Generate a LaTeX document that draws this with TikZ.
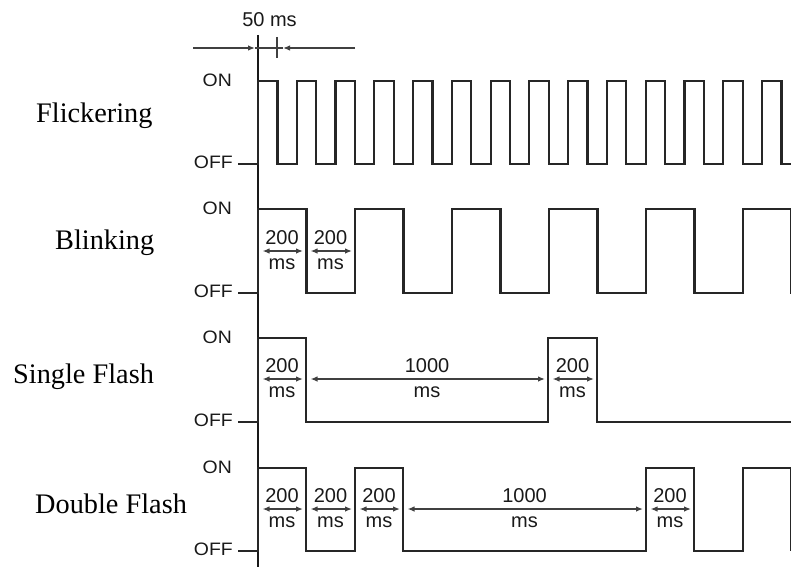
\documentclass[tikz,border=0pt]{standalone}
\usepackage{fontspec}
\setmainfont{Liberation Serif}
\newfontfamily\labfont[FakeStretch=1.08]{Liberation Sans}
\newfontfamily\numfont{Liberation Sans}
\usetikzlibrary{arrows.meta}
\begin{document}
\begin{tikzpicture}[x=1pt,y=-1pt,
  wave/.style={draw=black!85, line width=2.2pt, line join=miter},
  axisline/.style={draw=black!90, line width=2pt},
  dim/.style={draw=black!75, line width=1.3pt},
  dimarr/.style={dim, {Latex[length=7pt,width=5.5pt]}-{Latex[length=7pt,width=5.5pt]}},
  onearr/.style={dim, -{Latex[length=7pt,width=5.5pt]}},
  lvl/.style={font=\labfont\fontsize{18}{18}\selectfont, text=black!90, inner sep=0, anchor=east},
  num/.style={font=\numfont\fontsize{20}{20}\selectfont, text=black!90, inner sep=0},
  title/.style={font=\fontsize{28.3}{30}\selectfont, anchor=base west, inner sep=0}]
\useasboundingbox (0,0) rectangle (791,567);

% row titles
\node[title] (tflick) at (36,122) {Flickering};
\node[title] (tblink) at (55,249) {Blinking};
\node[title] (tsingle) at (13,383) {Single Flash};
\node[title] (tdouble) at (35,513) {Double Flash};

% ON / OFF labels
\node[lvl] (on1) at (232,80) {ON};
\node[lvl] (off1) at (233,162) {OFF};
\node[lvl] (on2) at (232,208) {ON};
\node[lvl] (off2) at (233,291) {OFF};
\node[lvl] (on3) at (232,337) {ON};
\node[lvl] (off3) at (233,420) {OFF};
\node[lvl] (on4) at (232,467) {ON};
\node[lvl] (off4) at (233,549) {OFF};

% time axis
\coordinate (axtop) at (258,35);
\coordinate (axbot) at (258,567);
\draw[axisline] (axtop) -- (axbot);

% Flickering
\draw[wave] (238,164) -- (258,164)
  foreach \k in {0,...,13} { -- ++(0,-83) -- ++(19.4,0) -- ++(0,83) -- ++(19.37,0) };

% Blinking
\draw[wave] (238,293) -- (258,293)
  foreach \k in {0,...,5} { -- ++(0,-84) -- ++(48.5,0) -- ++(0,84) -- ++(48.5,0) };

% Single flash
\draw[wave] (238,422) -- (258,422) -- (258,338) -- (306,338) -- (306,422)
  -- (548,422) -- (548,338) -- (597,338) -- (597,422) -- (795,422);

% Double flash
\draw[wave] (238,551) -- (258,551) -- (258,468) -- (306,468) -- (306,551)
  -- (355,551) -- (355,468) -- (403,468) -- (403,551)
  -- (646,551) -- (646,468) -- (694,468) -- (694,551)
  -- (743,551) -- (743,468) -- (791.5,468) -- (791.5,551);

% 50 ms dimension
\coordinate (dl) at (193,48);
\coordinate (dr) at (355,48);
\coordinate (da) at (255,48);
\coordinate (db) at (283,48);
\draw[dim] (da) -- (db);
\draw[onearr] (dl) -- (da);
\draw[onearr] (dr) -- (db);
\coordinate (tk1) at (277,37);
\coordinate (tk2) at (277,58);
\draw[dim, line width=1.5pt] (tk1) -- (tk2);
\node[num] (fifty) at (269.5,20) {50 ms};

% duration dimensions
\foreach \a/\b/\y/\t/\n in {258/306/251/200/b1, 306/355/251/200/b2,
    258/306/379/200/s1, 306/548/379/1000/s2, 548/597/379/200/s3,
    258/306/509/200/d1, 306/355/509/200/d2, 355/403/509/200/d3,
    403/646/509/1000/d4, 646/694/509/200/d5} {
  \coordinate (\n l) at ({\a+4.5},\y);
  \coordinate (\n r) at ({\b-3},\y);
  \draw[dimarr] (\n l) -- (\n r);
  \node[num] (\n v) at ({(\a+\b)/2},{\y-13.5}) {\t};
  \node[num] (\n u) at ({(\a+\b)/2},{\y+13}) {ms};
}
\end{tikzpicture}
\end{document}
